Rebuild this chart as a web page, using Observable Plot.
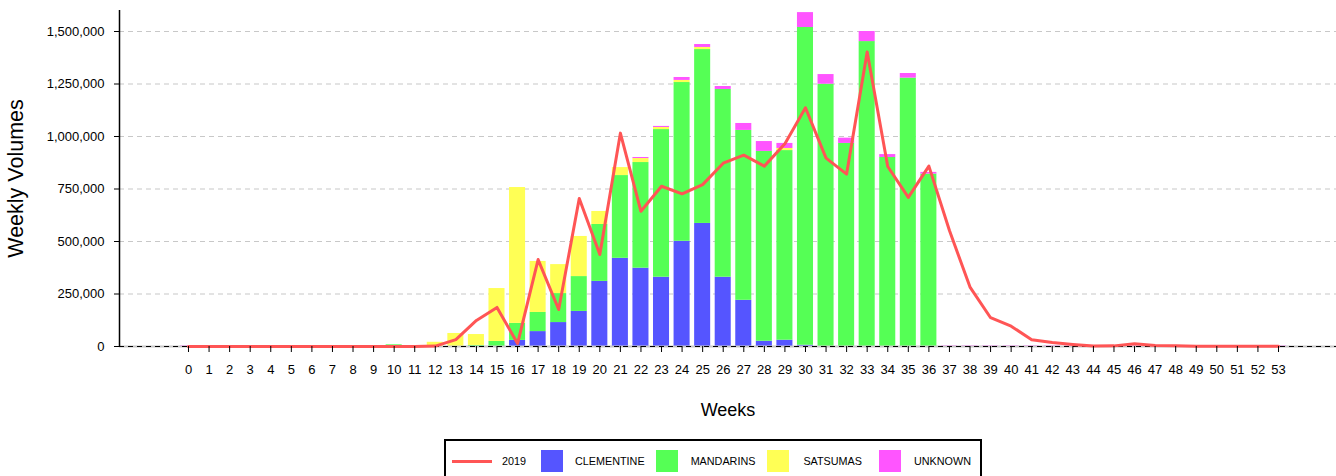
<!DOCTYPE html>
<html><head><meta charset="utf-8">
<script src="https://cdn.jsdelivr.net/npm/d3@7"></script>
<script src="https://cdn.jsdelivr.net/npm/@observablehq/plot@0.6"></script>
<style>
body{margin:0;background:#fff;font-family:"Liberation Sans",Arial,sans-serif;}
#chart svg{display:block;}
#legend{margin-left:444px;margin-top:14px;width:538px;height:44px;border:2px solid #000;box-sizing:border-box;display:flex;align-items:center;font-size:10.8px;color:#000;}
#legend .item{display:flex;align-items:center;}
</style></head><body><div id="chart"></div><div id="legend"></div>
<script>
const weeks = [0,1,2,3,4,5,6,7,8,9,10,11,12,13,14,15,16,17,18,19,20,21,22,23,24,25,26,27,28,29,30,31,32,33,34,35,36,37,38,39,40,41,42,43,44,45,46,47,48,49,50,51,52,53];
const types = ["CLEMENTINE","MANDARINS","SATSUMAS","UNKNOWN"];
const colors = ["#5555ff","#55ff55","#ffff55","#ff55ff"];
const lineName = "2019";
const lineColor = "#ff5555";
//                 0 1 2 3 4 5 6 7 8 9 10   11 12    13    14     15     16     17     18     19     20     21     22     23     24     25     26     27     28     29     30      31      32     33      34     35      36     37 38 39 40 41 42 43 44 45 46 47 48 49 50 51 52 53
const clementine = [0,0,0,0,0,0,0,0,0,0,0,   0, 0,    0,    0,     0,     29000, 71000, 114000,167000,310000,420000,373000,330000,501000,586000,330000,220000,25000, 30000, 6000,   0,      0,     0,      0,     0,      0,     0,0,0,0,0,0,0,0,0,0,0,0,0,0,0,0,0];
const mandarins  = [0,0,0,0,0,0,0,0,0,0,8000,0, 0,    0,    5000,  24000, 81000, 91000, 138000,166000,271000,394000,503000,703000,756000,828000,894000,809000,904000,903000,1513000,1249000,967000,1452000,900000,1278000,821000,0,0,0,0,0,0,0,0,0,0,0,0,0,0,0,0,0];
const satsumas   = [0,0,0,0,0,0,0,0,0,0,0,   0, 20000,62000,52000, 252000,647000,243000,138000,191000,62000, 38000, 19000, 10000, 10000, 10000, 0,     0,     0,     10000, 0,      0,      0,     0,      0,     0,      0,     0,0,0,0,0,0,0,0,0,0,0,0,0,0,0,0,0];
const unknown    = [2500,0,0,0,0,0,0,0,0,0,0,0,0,    0,    0,     0,     0,     0,     0,     0,     0,     0,     5000,  5000,  14000, 14000, 14000, 33000, 47000, 24000, 71000,  46000,  25000, 48000,  14000, 22000,  8000,  2500,2500,2500,2500,2500,2500,2500,2500,2500,2500,2500,2500,2500,2500,2500,2500,2500];
const line2019   = [0,0,0,0,0,0,0,0,0,0,0,   0, 2000, 33000,124000,186000,14000, 414000,176000,705000,438000,1016000,644000,763000,727000,771000,873000,911000,859000,965000,1137000,897000,821000,1402000,857000,710000,859000,552000,283000,137000,97000,32000,19000,10000,2000,3000,13000,5000,3000,1000,1000,1000,1000,1000];
const yTicks = [0,250000,500000,750000,1000000,1250000,1500000];
const xDomain = [-3.355, 55.82];
const yDomain = [0, 1600000];

const seriesValues = [clementine, mandarins, satsumas, unknown];
const barData = [];
types.forEach((t, i) => weeks.forEach((w, j) => { if (seriesValues[i][j] > 0) barData.push({week: w, type: t, value: seriesValues[i][j]}); }));
const lineData = weeks.map((w, j) => ({week: w, value: line2019[j]}));

const plot = Plot.plot({
  width: 1336, height: 425,
  marginLeft: 119, marginRight: 0, marginTop: 10, marginBottom: 79,
  style: {fontFamily: "'Liberation Sans', Arial, sans-serif", fontSize: "13px", background: "#fff", color: "#000"},
  x: {type: "linear", domain: xDomain},
  y: {domain: yDomain},
  color: {domain: types, range: colors},
  marks: [
    Plot.ruleY(yTicks.filter(d => d > 0), {stroke: "#c8c8c8", strokeDasharray: "5,4", strokeWidth: 1.2}),
    Plot.rectY(barData, Plot.stackY({order: types}, {x1: d => d.week - 0.39, x2: d => d.week + 0.39, y: "value", fill: "type"})),
    Plot.ruleY([0], {stroke: "#c8c8c8", strokeWidth: 2}),
    Plot.ruleY([0], {stroke: "#000", strokeDasharray: "5,4", strokeWidth: 1}),
    Plot.line(lineData, {x: "week", y: "value", stroke: lineColor, strokeWidth: 3}),
    Plot.ruleX([xDomain[0]], {y1: yDomain[0], y2: yDomain[1], stroke: "#000", strokeWidth: 1.5}),
    Plot.axisY({ticks: yTicks, tickFormat: d3.format(","), tickSize: 5, tickPadding: 10, label: null, stroke: "#000"}),
    Plot.axisX({ticks: weeks, tickFormat: d => String(d), tickSize: 6, tickPadding: 12, label: null, stroke: "#000"}),
    Plot.text(["Weeks"], {frameAnchor: "bottom", lineAnchor: "middle", dy: 64, fontSize: 18}),
    Plot.text(["Weekly Volumes"], {frameAnchor: "left", lineAnchor: "middle", textAnchor: "middle", dx: -103, rotate: -90, fontSize: 21.5})
  ]
});
document.getElementById("chart").appendChild(plot);

const legend = document.getElementById("legend");
const swatchGap = [15, 11, 12, 17];
const labelGap = [12, 13, 14, 13];
const lineItem = document.createElement("div");
lineItem.className = "item";
lineItem.innerHTML = `<span style="display:inline-block;width:40px;height:3px;background:${lineColor};margin-left:6px"></span><span style="margin-left:10px">${lineName}</span>`;
legend.appendChild(lineItem);
types.forEach((t, i) => {
  const it = document.createElement("div");
  it.className = "item";
  it.innerHTML = `<span style="display:inline-block;width:22px;height:22px;background:${colors[i]};margin-left:${swatchGap[i]}px"></span><span style="margin-left:${labelGap[i]}px">${t}</span>`;
  legend.appendChild(it);
});
</script>
</body></html>
